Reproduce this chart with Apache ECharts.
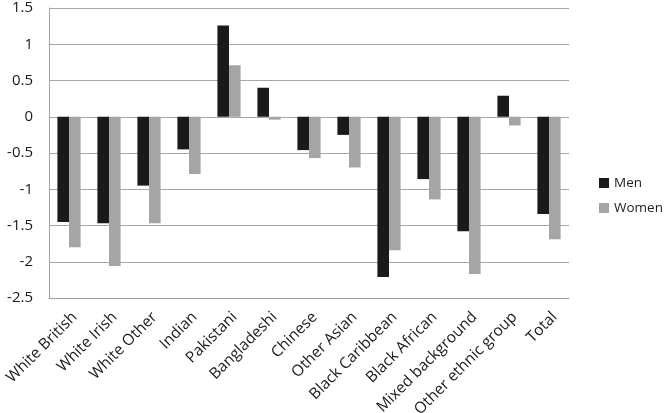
<!DOCTYPE html>
<html><head><meta charset="utf-8">
<script src="https://cdn.jsdelivr.net/npm/echarts@6/dist/echarts.min.js"></script>
<style>html,body{margin:0;padding:0;background:#fff}#c{width:664px;height:413px}</style>
</head><body><div id="c"></div>
<script>
const categories = ["White British","White Irish","White Other","Indian","Pakistani","Bangladeshi","Chinese","Other Asian","Black Caribbean","Black African","Mixed background","Other ethnic group","Total"];
const men = [-1.45,-1.47,-0.95,-0.45,1.26,0.40,-0.46,-0.25,-2.21,-0.86,-1.58,0.29,-1.34];
const women = [-1.80,-2.06,-1.47,-0.79,0.71,-0.04,-0.57,-0.70,-1.84,-1.14,-2.17,-0.12,-1.69];
const yTicks = {min:-2.5, max:1.5, interval:0.5};
const font = "Open Sans";
const chart = echarts.init(document.getElementById('c'));
chart.setOption({
  animation:false,
  textStyle:{fontFamily:font},
  grid:{left:49,right:95,top:8,bottom:115,containLabel:false,outerBoundsMode:'none'},
  legend:{orient:'vertical',left:594,top:171,itemWidth:10,itemHeight:10,itemGap:11,itemTextGap:4,
    icon:'rect',textStyle:{fontFamily:font,fontSize:13.5,color:'#222'},data:['Men','Women']},
  xAxis:{type:'category',data:categories,
    axisLine:{onZero:false,lineStyle:{color:'#a0a0a0'}},axisTick:{show:false},
    axisLabel:{rotate:45,interval:0,fontSize:15.5,color:'#1a1a1a',fontFamily:font,margin:11,
      align:'right',verticalAlign:'top'}},
  yAxis:{type:'value',min:yTicks.min,max:yTicks.max,interval:yTicks.interval,
    axisLine:{show:true,lineStyle:{color:'#a0a0a0'}},axisTick:{show:false},
    splitLine:{lineStyle:{color:'#a6a6a6'}},
    axisLabel:{fontSize:15,color:'#1a1a1a',fontFamily:font,margin:16}},
  series:[
    {name:'Men',type:'bar',data:men,itemStyle:{color:'#1a1a1a'},barGap:'0%',barCategoryGap:'42%'},
    {name:'Women',type:'bar',data:women,itemStyle:{color:'#a5a5a5'},barGap:'0%',barCategoryGap:'42%'}
  ]
});
</script></body></html>
